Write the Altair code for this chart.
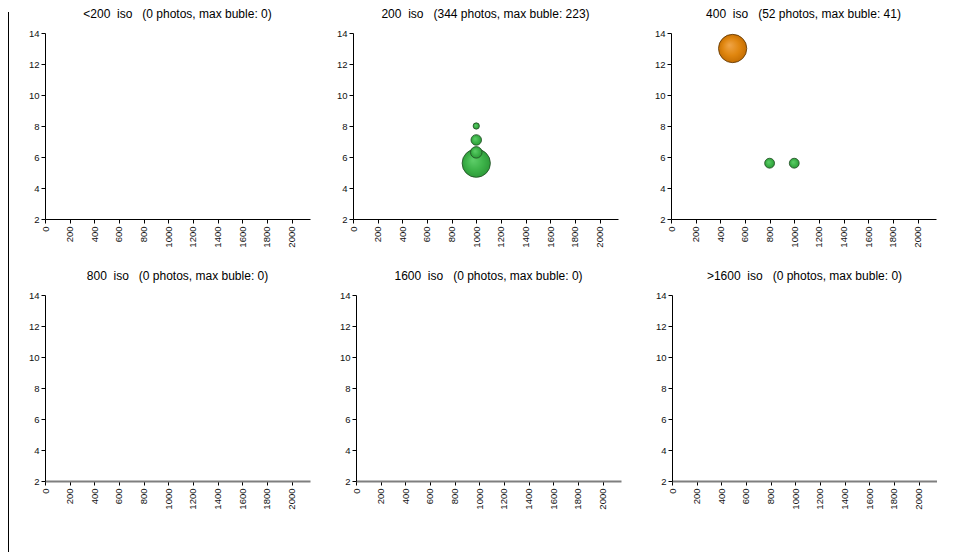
import altair as alt
import pandas as pd

# ---- data ----
iso_labels = ["<200", "200", "400", "800", "1600", ">1600"]
photos = [0, 344, 52, 0, 0, 0]
max_bubble = [0, 223, 41, 0, 0, 0]

# bubbles: panel index, x, y, bubble value, colour group
b_panel = [1, 1, 1, 1, 2, 2, 2]
b_x = [1000, 1000, 1000, 1000, 500, 800, 1000]
b_y = [5.6, 6.3, 7.1, 8.0, 13.0, 5.6, 5.6]
b_val = [223, 37, 31, 11, 41, 5, 5]
b_grp = ["green", "green", "green", "green", "orange", "green", "green"]

x_ticks = list(range(0, 2001, 200))
y_ticks = list(range(2, 15, 2))

bubbles = pd.DataFrame({"panel": b_panel, "x": b_x, "y": b_y, "val": b_val, "grp": b_grp})

FONT = "Liberation Sans"
NB = "\u00a0"

green_fill = alt.Gradient(
    gradient="radial",
    x1=0.38, y1=0.38, r1=0.0, x2=0.5, y2=0.5, r2=0.55,
    stops=[alt.GradientStop(color="#5fcf6a", offset=0),
           alt.GradientStop(color="#3db349", offset=0.55),
           alt.GradientStop(color="#2a9636", offset=1)],
)
orange_fill = alt.Gradient(
    gradient="radial",
    x1=0.38, y1=0.38, r1=0.0, x2=0.5, y2=0.5, r2=0.55,
    stops=[alt.GradientStop(color="#f0a548", offset=0),
           alt.GradientStop(color="#e0860f", offset=0.55),
           alt.GradientStop(color="#c06a00", offset=1)],
)


def panel(i, bottom_row):
    df = bubbles[bubbles["panel"] == i]
    mx = max(max_bubble[i], 1)
    title = f"{iso_labels[i]}{NB} iso{NB}{NB} ({photos[i]} photos, max buble: {max_bubble[i]})"
    xdom_color = "#7f7f7f" if bottom_row else "#000000"
    xdom_w = 2 if bottom_row else 1
    enc = dict(
        x=alt.X("x:Q", scale=alt.Scale(domain=[0, 2150], nice=False, zero=False),
                axis=alt.Axis(values=x_ticks, format="d", labelAngle=-90, labelAlign="right",
                              labelBaseline="middle", grid=False, title=None,
                              labelFontSize=9.5, labelFont=FONT, labelColor="#111111",
                              tickColor="#000000", domainColor=xdom_color,
                              domainWidth=xdom_w, tickSize=4, labelPadding=3)),
        y=alt.Y("y:Q", scale=alt.Scale(domain=[2, 14], nice=False, zero=False),
                axis=alt.Axis(values=y_ticks, format="d", grid=False, title=None,
                              labelFontSize=9.5, labelFont=FONT, labelColor="#111111",
                              tickColor="#000000", domainColor="#000000",
                              tickSize=4, labelPadding=2)),
        size=alt.Size("val:Q", scale=alt.Scale(domain=[0, mx], range=[0, 800], zero=True),
                      legend=None),
        order=alt.Order("val:Q", sort="descending"),
    )
    base = alt.Chart(df)
    g = base.transform_filter(alt.datum.grp == "green").mark_point(
        shape="circle", filled=True, fill=green_fill, stroke="#1f4a22",
        strokeWidth=0.8, opacity=1).encode(**enc)
    o = base.transform_filter(alt.datum.grp == "orange").mark_point(
        shape="circle", filled=True, fill=orange_fill, stroke="#5a3200",
        strokeWidth=0.8, opacity=1).encode(**enc)
    return alt.layer(g, o).properties(
        width=265, height=186,
        title=alt.TitleParams(title, font=FONT, fontSize=12, fontWeight="normal",
                              color="#000000", offset=7),
    )


p = [panel(i, i >= 3) for i in range(6)]

top = alt.hconcat(alt.hconcat(p[0], p[1], spacing=26).resolve_scale(size="independent"),
                  p[2], spacing=36).resolve_scale(size="independent")
bot = alt.hconcat(alt.hconcat(p[3], p[4], spacing=29).resolve_scale(size="independent"),
                  p[5], spacing=34).resolve_scale(size="independent")
grid = alt.vconcat(top, bot, spacing=22).resolve_scale(size="independent")

rule = alt.Chart(pd.DataFrame({"a": [0]})).mark_rule(color="#000000", strokeWidth=1).encode(
    x=alt.value(0.5), y=alt.value(-21), y2=alt.value(523)
).properties(width=1, height=490)

chart = alt.hconcat(rule, grid, spacing=19).resolve_scale(size="independent").properties(
    padding={"left": 0, "top": 0, "right": 0, "bottom": 0}
).configure_view(stroke=None).configure_concat(spacing=20)

chart.save("out.html", embed_options={"renderer": "svg", "actions": False})
